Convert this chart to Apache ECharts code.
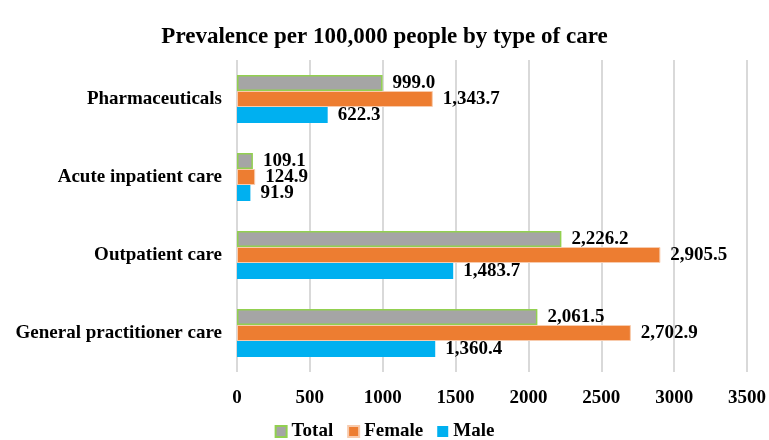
<!DOCTYPE html>
<html>
<head>
<meta charset="utf-8">
<script src="https://cdn.jsdelivr.net/npm/echarts@6/dist/echarts.min.js"></script>
<style>
html,body{margin:0;padding:0;background:#fff;}
#chart{width:769px;height:440px;}
</style>
</head>
<body>
<div id="chart"></div>
<script>
// Categories listed bottom to top along the vertical axis
const categories = ['General practitioner care', 'Outpatient care', 'Acute inpatient care', 'Pharmaceuticals'];
const maleValues = [1360.4, 1483.7, 91.9, 622.3];
const femaleValues = [2702.9, 2905.5, 124.9, 1343.7];
const totalValues = [2061.5, 2226.2, 109.1, 999.0];
const xTicks = { min: 0, max: 3500, interval: 500 };

const font = '"Liberation Serif", "Times New Roman", serif';
const fmt = v => v.value.toLocaleString('en-US', { minimumFractionDigits: 1, maximumFractionDigits: 1 });

const labelStyle = {
  show: true,
  position: 'right',
  distance: 10,
  formatter: fmt,
  fontFamily: font,
  fontWeight: 'bold',
  fontSize: 19,
  color: '#000'
};

const chart = echarts.init(document.getElementById('chart'));
chart.setOption({
  animation: false,
  backgroundColor: '#fff',
  title: {
    text: 'Prevalence per 100,000 people by type of care',
    left: 'center',
    top: 21,
    textStyle: { fontFamily: font, fontWeight: 'bold', fontSize: 23, color: '#000' }
  },
  legend: {
    data: ['Total', 'Female', 'Male'],
    bottom: -6,
    left: 'center',
    icon: 'rect',
    itemWidth: 11,
    itemHeight: 11,
    itemGap: 14,
    textStyle: { fontFamily: font, fontWeight: 'bold', fontSize: 19, color: '#000' }
  },
  grid: { left: 237, right: 21, top: 60, bottom: 68, containLabel: false },
  xAxis: {
    type: 'value',
    min: xTicks.min,
    max: xTicks.max,
    interval: xTicks.interval,
    axisLine: { show: false },
    axisTick: { show: false },
    splitLine: { lineStyle: { color: '#D9D9D9', width: 2 } },
    axisLabel: { fontFamily: font, fontWeight: 'bold', fontSize: 19, color: '#000', margin: 17, formatter: v => String(v) }
  },
  yAxis: {
    type: 'category',
    data: categories,
    axisLine: { show: false },
    axisTick: { show: false },
    axisLabel: { fontFamily: font, fontWeight: 'bold', fontSize: 19, color: '#000', margin: 15 }
  },
  series: [
    {
      name: 'Total', type: 'bar', data: totalValues, barWidth: 16, barGap: '0%',
      itemStyle: { color: '#A5A5A5', borderColor: '#92D050', borderWidth: 1.5 }, label: labelStyle
    },
    {
      name: 'Female', type: 'bar', data: femaleValues, barWidth: 16, barGap: '0%',
      itemStyle: { color: '#ED7D31', borderColor: '#F8CBAD', borderWidth: 1 }, label: labelStyle
    },
    {
      name: 'Male', type: 'bar', data: maleValues, barWidth: 16, barGap: '0%',
      itemStyle: { color: '#00B0F0' }, label: labelStyle
    }
  ]
});
</script>
</body>
</html>
